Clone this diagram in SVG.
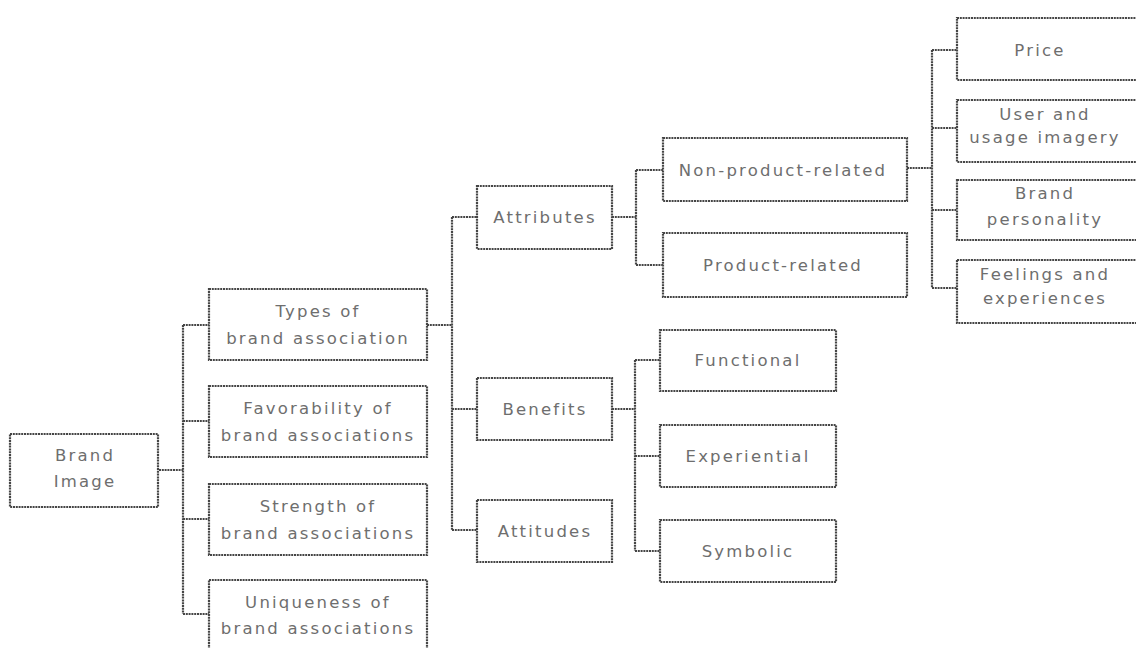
<svg xmlns="http://www.w3.org/2000/svg" width="1136" height="648" viewBox="0 0 1136 648">
<style>
.b{fill:#fff;stroke:#454545;stroke-width:2.2;stroke-dasharray:2 0.8}
.c{fill:none;stroke:#454545;stroke-width:2.2;stroke-dasharray:2 0.8}
text{font-family:"DejaVu Sans","Liberation Sans",Arial,sans-serif;font-size:16.5px;fill:#6e6e6e;text-anchor:middle;letter-spacing:2.2px}
</style>
<rect width="1136" height="648" fill="#fff"/>
<g id="connectors">
<path class="c" d="M159,470 H183 M183,325 V614 M183,325 H209 M183,421 H209 M183,519 H209 M183,614 H209"/>
<path class="c" d="M427,325 H452 M452,217 V530 M452,217 H477 M452,409 H477 M452,530 H477"/>
<path class="c" d="M612,217 H636 M636,170 V265 M636,170 H663 M636,265 H663"/>
<path class="c" d="M612,409 H635 M635,360 V551 M635,360 H660 M635,456 H660 M635,551 H660"/>
<path class="c" d="M907,168 H932 M932,50 V288 M932,50 H957 M932,128 H957 M932,210 H957 M932,288 H957"/>
</g>
<g id="brand-image"><rect class="b" x="10" y="434" width="148" height="73"/><text x="85" y="461">Brand</text><text x="85" y="487">Image</text></g>
<g id="types"><rect class="b" x="209" y="289" width="218" height="71"/><text x="318" y="317">Types of</text><text x="318" y="344">brand association</text></g>
<g id="favorability"><rect class="b" x="209" y="386" width="218" height="71"/><text x="318" y="414">Favorability of</text><text x="318" y="441">brand associations</text></g>
<g id="strength"><rect class="b" x="209" y="484" width="218" height="71"/><text x="318" y="512">Strength of</text><text x="318" y="539">brand associations</text></g>
<g id="uniqueness"><rect class="b" x="209" y="580" width="218" height="80"/><text x="318" y="608">Uniqueness of</text><text x="318" y="634">brand associations</text></g>
<g id="attributes"><rect class="b" x="477" y="186" width="135" height="63"/><text x="545" y="223">Attributes</text></g>
<g id="benefits"><rect class="b" x="477" y="378" width="135" height="62"/><text x="545" y="415">Benefits</text></g>
<g id="attitudes"><rect class="b" x="477" y="500" width="135" height="62"/><text x="545" y="537">Attitudes</text></g>
<g id="non-product"><rect class="b" x="663" y="138" width="244" height="63"/><text x="783" y="176">Non-product-related</text></g>
<g id="product"><rect class="b" x="663" y="233" width="244" height="64"/><text x="783" y="271">Product-related</text></g>
<g id="functional"><rect class="b" x="660" y="330" width="176" height="61"/><text x="748" y="366">Functional</text></g>
<g id="experiential"><rect class="b" x="660" y="425" width="176" height="62"/><text x="748" y="462">Experiential</text></g>
<g id="symbolic"><rect class="b" x="660" y="520" width="176" height="62"/><text x="748" y="557">Symbolic</text></g>
<g id="price"><rect class="b" x="957" y="18" width="190" height="62"/><text x="1040" y="56">Price</text></g>
<g id="user"><rect class="b" x="957" y="100" width="190" height="62"/><text x="1045" y="120">User and</text><text x="1045" y="143">usage imagery</text></g>
<g id="personality"><rect class="b" x="957" y="180" width="190" height="60"/><text x="1045" y="199">Brand</text><text x="1045" y="225">personality</text></g>
<g id="feelings"><rect class="b" x="957" y="260" width="190" height="63"/><text x="1045" y="280">Feelings and</text><text x="1045" y="304">experiences</text></g>
</svg>
